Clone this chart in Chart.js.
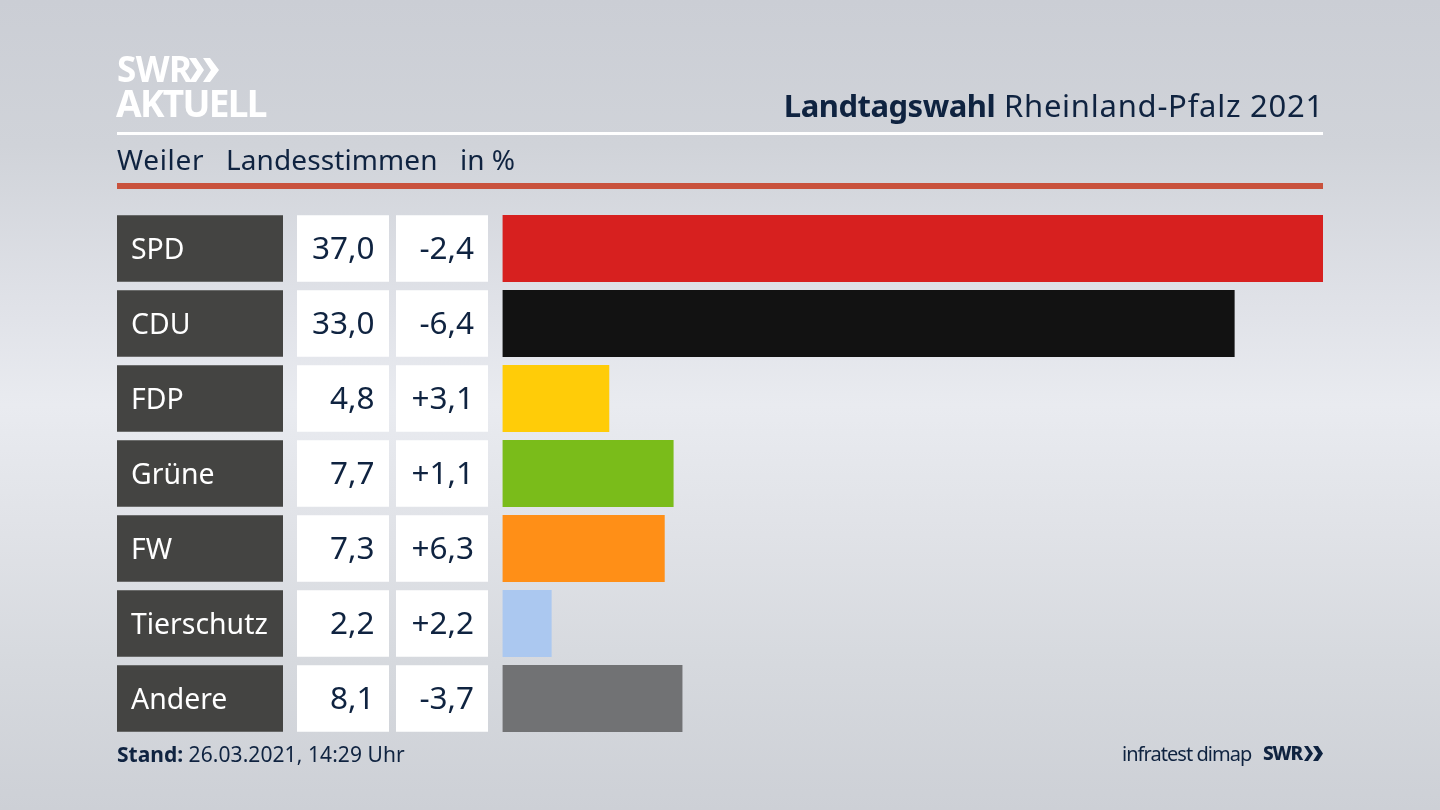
<!DOCTYPE html>
<html lang="de">
<head>
<meta charset="utf-8">
<title>Landtagswahl Rheinland-Pfalz 2021</title>
<script src="https://cdn.jsdelivr.net/npm/chart.js@4/dist/chart.umd.min.js"></script>
<style>
html,body{margin:0;padding:0;width:1440px;height:810px;overflow:hidden}
body{position:relative;font-family:"Noto Sans",sans-serif;color:#0f2340;
background:linear-gradient(180deg,#cbced5 0%,#d0d3d9 18%,#e0e2e8 38%,#e9ebf0 50%,#e0e2e7 66%,#d6d9de 82%,#cdd0d6 100%)}
#c{position:absolute;left:0;top:0;width:1440px;height:810px}
.t{position:absolute;white-space:nowrap;line-height:1}
.rule{position:absolute;left:117px;width:1206px}
</style>
</head>
<body>
<canvas id="c" width="1440" height="810"></canvas>
<div class="t" style="left:117px;top:51px;font-size:35px;font-weight:700;color:#fff;letter-spacing:-.6px">SWR</div>
<svg style="position:absolute;left:188px;top:57px" width="34" height="26" viewBox="0 0 34 26"><path d="M1 1h7l8 12-8 12H1l8-12zM15 1h7l9 12-9 12h-7l8-12z" fill="#fff"/></svg>
<div class="t" style="left:116px;top:84px;font-size:37px;font-weight:700;color:#fff;letter-spacing:-1.7px">AKTUELL</div>
<div class="t" style="right:116px;top:90px;font-size:31px;letter-spacing:.75px"><b style="letter-spacing:-.5px">Landtagswahl</b> Rheinland-Pfalz 2021</div>
<div class="rule" style="top:132px;height:3px;background:#fff"></div>
<div class="t" style="left:117px;top:145px;font-size:28px;letter-spacing:.7px">Weiler</div>
<div class="t" style="left:226px;top:145px;font-size:28px;letter-spacing:.1px">Landesstimmen</div>
<div class="t" style="left:460px;top:145px;font-size:28px">in %</div>
<div class="rule" style="top:183px;height:6px;background:#c9523d"></div>
<div class="t" style="left:117px;top:744px;font-size:21px"><b>Stand:</b> <span style="letter-spacing:.08px">26.03.2021, 14:29 Uhr</span></div>
<div class="t" style="left:1122px;top:744px;font-size:20px;letter-spacing:-.95px">infratest dimap</div>
<div class="t" style="left:1263px;top:744px;font-size:19px;font-weight:800;letter-spacing:-1.1px">SWR</div>
<svg style="position:absolute;left:1304px;top:745px" width="20" height="17" viewBox="0 0 20 17"><path d="M0 1h4l5 7.500-5 7.500H0l5-7.500zM9 1h5l5 7.500-5 7.500H9l5-7.500z" fill="#0f2340"/></svg>
<script>
const parties = ["SPD","CDU","FDP","Grüne","FW","Tierschutz","Andere"];
const shares  = [37.0,33.0,4.8,7.7,7.3,2.2,8.1];
const changes = ["-2,4","-6,4","+3,1","+1,1","+6,3","+2,2","-3,7"];
const colors  = ["#d7201f","#121212","#ffcc08","#7abc1a","#ff8f17","#abc8f0","#717274"];

const fmt = v => v.toFixed(1).replace(".", ",");
const panels = {
  id:"panels",
  beforeDraw(chart){
    const {ctx,scales:{y}} = chart;
    const h = 66.5;
    ctx.save();
    parties.forEach((p,i)=>{
      const cy = y.getPixelForValue(i), top = cy-h/2;
      ctx.fillStyle="#444442"; ctx.fillRect(117,top,166,h);
      ctx.fillStyle="#fff"; ctx.fillRect(297,top,92,h); ctx.fillRect(396,top,92,h);
      ctx.fillStyle="#0f2340"; ctx.font='31.5px "Noto Sans"';
      ctx.textAlign="right"; ctx.textBaseline="middle";
      ctx.fillText(fmt(shares[i]),374.5,cy+2);
      ctx.fillText(changes[i],474,cy+2);
    });
    ctx.restore();
  }
};
new Chart(document.getElementById("c"),{
  type:"bar",
  data:{labels:parties,datasets:[{data:shares,backgroundColor:colors,borderWidth:0,barThickness:66.5}]},
  plugins:[panels],
  options:{
    indexAxis:"y",responsive:false,animation:false,devicePixelRatio:1,
    layout:{padding:{left:131,right:117,top:211,bottom:74}},
    plugins:{legend:{display:false},tooltip:{enabled:false},title:{display:false}},
    scales:{
      x:{display:false,min:0,max:37},
      y:{
        afterFit(s){s.width=371.5;},
        grid:{display:false,drawTicks:false},border:{display:false},
        ticks:{crossAlign:"far",padding:0,labelOffset:2,color:"#ffffff",font:{family:"Noto Sans",size:28.4}}
      }
    }
  }
});
</script>
</body>
</html>
